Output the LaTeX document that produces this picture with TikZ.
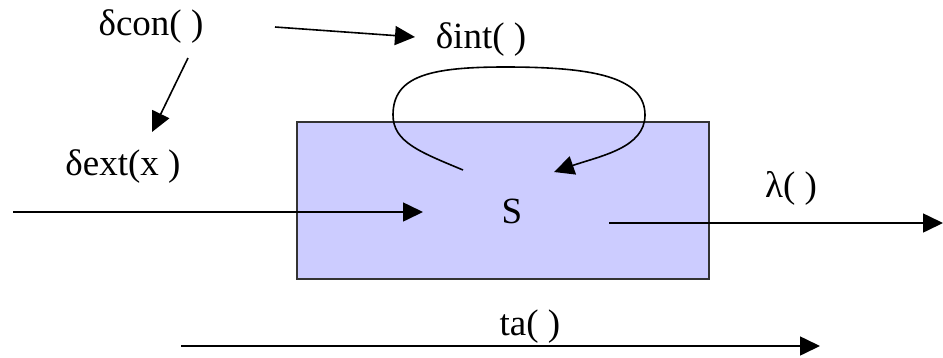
\documentclass[tikz,border=0pt]{standalone}
\usepackage{fontspec}
\setmainfont{Liberation Serif}
\usetikzlibrary{arrows.meta}
\definecolor{boxfill}{HTML}{CCCCFF}
\definecolor{boxline}{HTML}{333333}
\begin{document}
\begin{tikzpicture}[x=1pt,y=-1pt,
  lbl/.style={inner sep=0pt,anchor=base,font=\fontsize{37}{40}\selectfont},
  conn/.style={line width=1.6pt,-{Triangle[length=20pt,width=19pt]}},
  sbox/.style={draw=boxline,fill=boxfill,line width=1.4pt,inner sep=0pt}]
\useasboundingbox (0,0) rectangle (943,357);
\fill[white] (0,0) rectangle (943,357);
% state box
\path[sbox] (297,122) rectangle (709,279);
% labels
\node[lbl] (dcon) at (151,35) {δcon( )};
\node[lbl] (dint) at (481,48) {δint( )};
\node[lbl] (dext) at (123,175) {δext(x )};
\node[lbl] (S) at (512,223) {S};
\node[lbl] (lam) at (791,197) {λ( )};
\node[lbl] (ta) at (530,335) {ta( )};
% coordinates for arrow ends
\coordinate (a1s) at (188,58);  \coordinate (a1e) at (152,132);
\coordinate (a2s) at (275,27);  \coordinate (a2e) at (415,37);
\coordinate (ins) at (13,212);  \coordinate (ine) at (423,212);
\coordinate (outs) at (609,223); \coordinate (oute) at (943,223);
\coordinate (tas) at (181,346); \coordinate (tae) at (820,346);
\coordinate (ls) at (463,170);  \coordinate (le) at (554,172);
% connectors
\draw[conn] (a1s) -- (a1e);
\draw[conn] (a2s) -- (a2e);
\draw[conn] (ins) -- (ine);
\draw[conn] (outs) -- (oute);
\draw[conn] (tas) -- (tae);
\draw[conn] (ls) .. controls (420,152) and (393,142) .. (393,115)
  .. controls (393,76) and (430,67) .. (505,67)
  .. controls (590,67) and (645,76) .. (645,115)
  .. controls (645,148) and (600,156) .. (le);
\end{tikzpicture}
\end{document}
